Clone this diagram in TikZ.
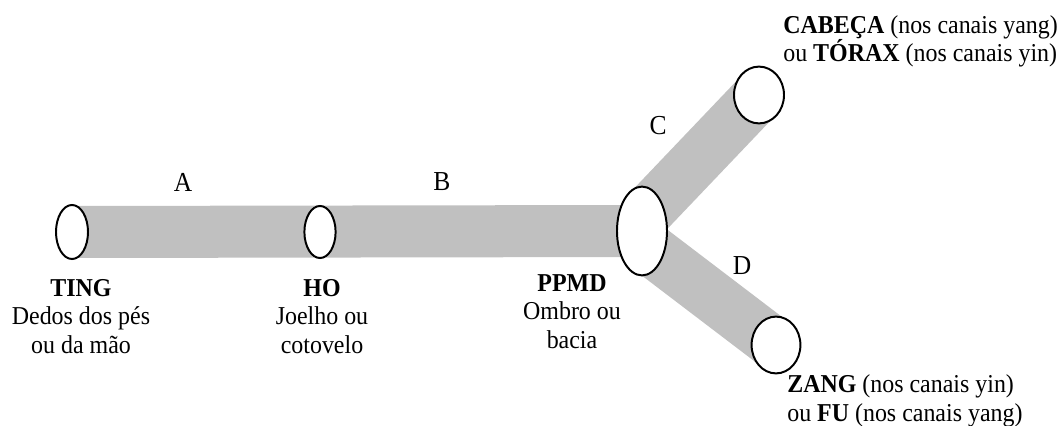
\documentclass[tikz,border=0pt]{standalone}
\usepackage{fontspec}
\setmainfont{Liberation Serif}[FakeStretch=0.93]
\usetikzlibrary{shapes.geometric,backgrounds}

\definecolor{bandgray}{HTML}{C0C0C0}
\tikzset{
    joint/.style={ellipse, draw, line width=1.4pt, fill=white, inner sep=0pt},
    band/.style={draw=bandgray, line width=1.3cm},
    txt/.style={font=\fontsize{18.3}{20}\selectfont, inner sep=0pt},
    seg/.style={font=\fontsize{19.5}{22}\selectfont, inner sep=0pt, anchor=base},
}

\begin{document}
\begin{tikzpicture}[x=0.025cm,y=-0.025cm]
    \useasboundingbox (0,0) rectangle (1060,426);
    % joints
    \node[joint, minimum width=0.8cm, minimum height=1.35cm] (ting) at (72,232) {};
    \node[joint, minimum width=0.78cm, minimum height=1.3cm] (ho) at (320,232) {};
    \node[joint, minimum width=1.25cm, minimum height=2.22cm] (ppmd) at (642,231) {};
    \node[joint, minimum width=1.25cm, minimum height=1.42cm] (cab) at (759,95) {};
    \node[joint, minimum width=1.22cm, minimum height=1.42cm] (zang) at (776,345) {};
    \begin{scope}[on background layer]
        \draw[band] (ting.center) -- (ppmd.center);
        \draw[band] ([yshift=0.33cm]ppmd.center) -- (cab.center);
        \draw[band] ([yshift=-0.3cm]ppmd.center) -- (zang.center);
    \end{scope}
    % segment letters
    \node[seg] (a) at (183,192) {A};
    \node[seg] (b) at (442,191) {B};
    \node[seg] (c) at (658,135) {C};
    \node[seg] (d) at (742,275) {D};
    % point names (base = last line)
    \node[txt, align=center, anchor=base] (ting-lbl) at (81,353) {\textbf{TING}\\Dedos dos pés\\ou da mão};
    \node[txt, align=center, anchor=base] (ho-lbl) at (322,353) {\textbf{HO}\\Joelho ou\\cotovelo};
    \node[txt, align=center, anchor=base] (ppmd-lbl) at (572,348) {\textbf{PPMD}\\Ombro ou\\bacia};
    \node[txt, align=left, anchor=base west] (cab-lbl) at (783,62) {\textbf{CABEÇA} (nos canais yang)\\ou \textbf{TÓRAX} (nos canais yin)};
    \node[txt, align=left, anchor=base west] (zang-lbl) at (787,421) {\textbf{ZANG} (nos canais yin)\\ou \textbf{FU} (nos canais yang)};
\end{tikzpicture}
\end{document}
